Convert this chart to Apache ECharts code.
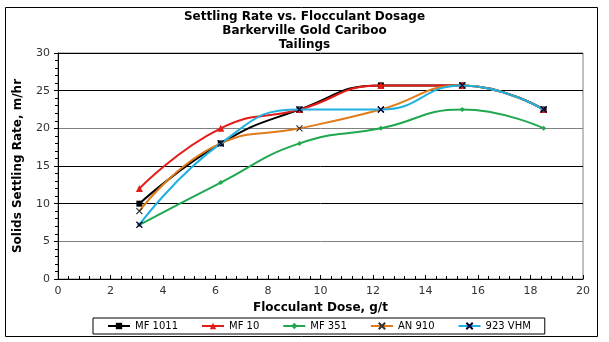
<!DOCTYPE html>
<html><head><meta charset="utf-8">
<script src="https://cdn.jsdelivr.net/npm/echarts@6/dist/echarts.min.js"></script>
<style>html,body{margin:0;padding:0;background:#fff}#c{width:609px;height:342px}</style>
</head><body><div id="c"></div>
<script>
const doses = [3.1, 6.2, 9.2, 12.3, 15.4, 18.5];
const seriesNames = ['MF 1011', 'MF 10', 'MF 351', 'AN 910', '923 VHM'];
const mf1011 = [10, 18, 22.5, 25.7, 25.7, 22.5];
const mf10 = [12, 20, 22.5, 25.7, 25.7, 22.5];
const mf351 = [7.2, 12.8, 18, 20, 22.5, 20];
const an910 = [9, 18, 20, 22.5, 25.7, 22.5];
const vhm923 = [7.2, 18, 22.5, 22.5, 25.7, 22.5];
const titleLines = ['Settling Rate vs. Flocculant Dosage', 'Barkerville Gold Cariboo', 'Tailings'];

const values = [mf1011, mf10, mf351, an910, vhm923];
const colors = ['#000000', '#e41b17', '#1fa84f', '#e07b1a', '#1fb0e0'];
const xPath = 'path://M0,0L10,10M10,0L0,10';
const styles = [
  {symbol: 'rect', symbolSize: 6},
  {symbol: 'triangle', symbolSize: 7},
  {symbol: 'diamond', symbolSize: 5},
  {symbol: xPath, symbolSize: 6},
  {symbol: xPath, symbolSize: 6}
];
const series = seriesNames.map((n, i) => ({
  name: n, type: 'line', smooth: 0.5,
  data: doses.map((d, j) => [d, values[i][j]]),
  symbol: styles[i].symbol, symbolSize: styles[i].symbolSize,
  lineStyle: {color: colors[i], width: 2},
  itemStyle: {color: i >= 3 ? 'transparent' : colors[i], borderColor: i >= 3 ? (i === 4 ? '#000033' : '#333') : colors[i], borderWidth: i >= 3 ? 1.2 : 0},
  z: 2 + i
}));

const chart = echarts.init(document.getElementById('c'), null, {renderer: 'canvas'});
chart.setOption({
  animation: false,
  backgroundColor: '#fff',
  textStyle: {fontFamily: 'DejaVu Sans'},
  graphic: [{type: 'rect', shape: {x: 5.5, y: 7.5, width: 592, height: 329}, style: {fill: 'none', stroke: '#000', lineWidth: 1}, z: -10}],
  title: {
    text: titleLines.join('\n'), left: 'center', top: 5,
    textStyle: {fontSize: 12, fontWeight: 'bold', color: '#000', lineHeight: 14, fontFamily: 'DejaVu Sans'}
  },
  legend: {
    data: seriesNames, bottom: 8, left: 93,
    itemWidth: 22, itemHeight: 8, itemGap: 23,
    borderColor: '#000', borderWidth: 1, padding: [3, 14, 3, 14],
    textStyle: {fontSize: 10, color: '#000', fontFamily: 'DejaVu Sans'}
  },
  grid: {left: 58, right: 26, top: 53, bottom: 63, show: true, borderColor: '#808080', borderWidth: 1},
  xAxis: {
    type: 'value', min: 0, max: 20, interval: 2,
    name: 'Flocculant Dose, g/t', nameLocation: 'middle', nameGap: 22,
    nameTextStyle: {fontSize: 12, fontWeight: 'bold', color: '#000'},
    axisLine: {show: true, lineStyle: {color: '#000'}},
    axisTick: {show: true, inside: true, length: 4, lineStyle: {color: '#000'}},
    minorTick: {show: true, splitNumber: 5, length: 3, lineStyle: {color: '#000'}},
    axisLabel: {fontSize: 11, color: '#333', margin: 7},
    splitLine: {show: false}
  },
  yAxis: {
    type: 'value', min: 0, max: 30, interval: 5,
    name: 'Solids Settling Rate, m/hr', nameLocation: 'middle', nameGap: 34,
    nameTextStyle: {fontSize: 12, fontWeight: 'bold', color: '#000'},
    axisLine: {show: true, lineStyle: {color: '#000'}},
    axisTick: {show: true, length: 4, lineStyle: {color: '#000'}},
    minorTick: {show: true, splitNumber: 5, length: 3, lineStyle: {color: '#000'}},
    axisLabel: {fontSize: 11, color: '#333', margin: 8},
    splitLine: {show: true, lineStyle: {color: ['#000', '#808080', '#000'], width: 1}}
  },
  series: series
});
</script></body></html>
